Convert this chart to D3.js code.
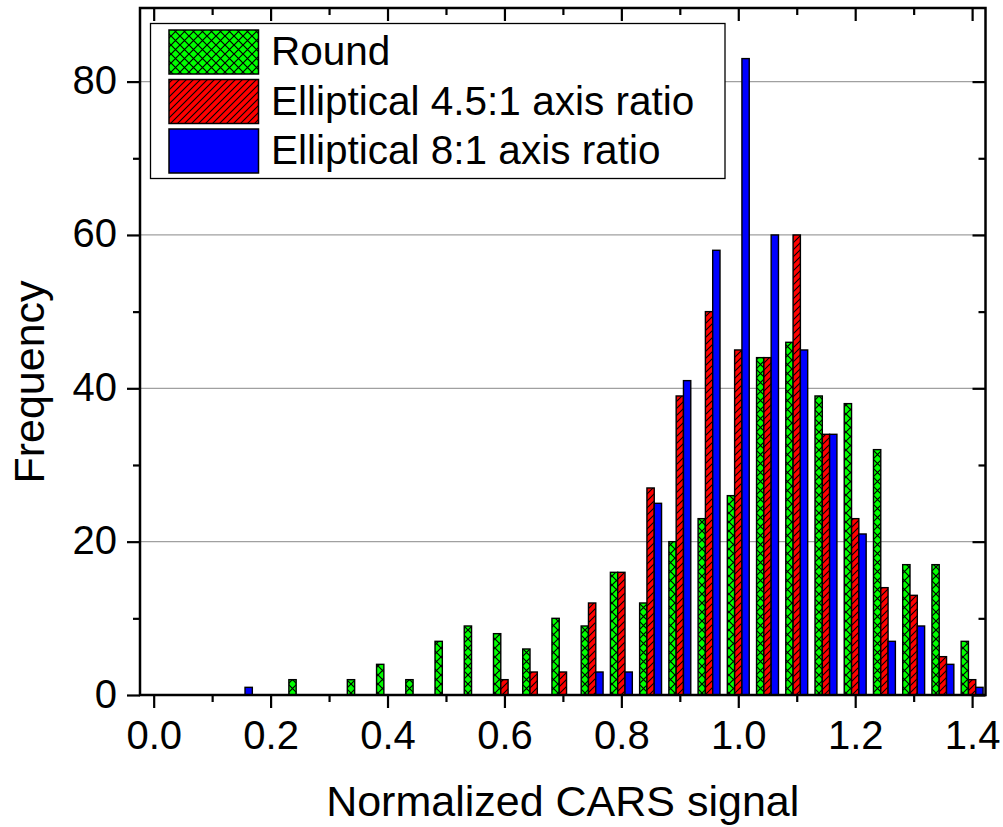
<!DOCTYPE html>
<html><head><meta charset="utf-8">
<script src="https://cdn.jsdelivr.net/npm/d3@7/dist/d3.min.js"></script>
<style>
body{margin:0;background:#fff;}
svg{display:block;}
text{font-family:"Liberation Sans",Arial,Helvetica,sans-serif;fill:#000;}
</style>
</head><body>
<svg id="chart" width="1003" height="827"></svg>
<script>
// ---- data ----
const bins = [0.15,0.20,0.25,0.30,0.35,0.40,0.45,0.50,0.55,0.60,0.65,0.70,0.75,0.80,0.85,0.90,0.95,1.00,1.05,1.10,1.15,1.20,1.25,1.30,1.35,1.40];
const roundVals   = [0,0,2,0,2,4,2,7,9,8,6,10,9,16,12,20,23,26,44,46,39,38,32,17,17,7];
const ellip45Vals = [0,0,0,0,0,0,0,0,0,2,3,3,12,16,27,39,50,45,44,60,34,23,14,13,5,2];
const ellip8Vals  = [1,0,0,0,0,0,0,0,0,0,0,0,3,3,25,41,58,83,60,45,34,21,7,9,4,1];
const seriesNames = ["Round","Elliptical 4.5:1 axis ratio","Elliptical 8:1 axis ratio"];
const xTickVals = [0.0,0.2,0.4,0.6,0.8,1.0,1.2,1.4];
const xMinorVals = [0.1,0.3,0.5,0.7,0.9,1.1,1.3];
const yTickVals = [0,20,40,60,80];
const yMinorVals = [10,30,50,70];
const xTitle = "Normalized CARS signal";
const yTitle = "Frequency";

// ---- layout ----
const L = 140, R = 985.5, T = 8, B = 695;
const svg = d3.select("#chart");
const x = d3.scaleLinear().domain([-0.0234, 1.4229]).range([L, R]);
const y = d3.scaleLinear().domain([0, 89.6]).range([B, T]);
const barW = 0.0125; // data units

// patterns
const defs = svg.append("defs");
const pg = defs.append("pattern").attr("id","hatchGreen").attr("patternUnits","userSpaceOnUse")
  .attr("width",9).attr("height",9);
pg.append("rect").attr("width",9).attr("height",9).attr("fill","#00ff00");
pg.append("path").attr("d","M0,0L9,9M9,0L0,9").attr("stroke","#000").attr("stroke-width",1.2);
const pr = defs.append("pattern").attr("id","hatchRed").attr("patternUnits","userSpaceOnUse")
  .attr("width",7).attr("height",7);
pr.append("rect").attr("width",7).attr("height",7).attr("fill","#ff0000");
pr.append("path").attr("d","M0,7L7,0M-1,1L1,-1M6,8L8,6").attr("stroke","#000").attr("stroke-width",1.1);

const fills = ["url(#hatchGreen)","url(#hatchRed)","#0000ff"];
const series = [roundVals, ellip45Vals, ellip8Vals];

// gridlines
svg.append("g").selectAll("line").data(yTickVals.filter(v=>v>0)).join("line")
  .attr("x1",L).attr("x2",R).attr("y1",d=>y(d)).attr("y2",d=>y(d))
  .attr("stroke","#a0a0a0").attr("stroke-width",1.2);

// bars
series.forEach((vals, si) => {
  const data = bins.map((b,i)=>({b, v: vals[i]})).filter(d=>d.v>0);
  svg.append("g").selectAll("rect").data(data).join("rect")
    .attr("x", d => x(d.b + (si-1.5)*barW))
    .attr("width", d => x(d.b + (si-0.5)*barW) - x(d.b + (si-1.5)*barW))
    .attr("y", d => y(d.v))
    .attr("height", d => y(0) - y(d.v))
    .attr("fill", fills[si])
    .attr("stroke","#000").attr("stroke-width",1.4);
});

// axes
const fs = 40;
const xAxisB = svg.append("g").attr("transform",`translate(0,${B})`)
  .call(d3.axisBottom(x).tickValues(xTickVals).tickFormat(d3.format(".1f")).tickSize(13).tickPadding(13));
svg.append("g").attr("transform",`translate(0,${B})`)
  .call(d3.axisBottom(x).tickValues(xMinorVals).tickFormat("").tickSize(7));
svg.append("g").attr("transform",`translate(0,${T})`)
  .call(d3.axisBottom(x).tickValues(xTickVals).tickFormat("").tickSize(13));
svg.append("g").attr("transform",`translate(0,${T})`)
  .call(d3.axisBottom(x).tickValues(xMinorVals).tickFormat("").tickSize(7));
const yAxisL = svg.append("g").attr("transform",`translate(${L},0)`)
  .call(d3.axisLeft(y).tickValues(yTickVals).tickSize(13).tickPadding(10));
svg.append("g").attr("transform",`translate(${L},0)`)
  .call(d3.axisLeft(y).tickValues(yMinorVals).tickFormat("").tickSize(7));
svg.append("g").attr("transform",`translate(${R},0)`)
  .call(d3.axisLeft(y).tickValues(yTickVals).tickFormat("").tickSize(13));
svg.append("g").attr("transform",`translate(${R},0)`)
  .call(d3.axisLeft(y).tickValues(yMinorVals).tickFormat("").tickSize(7));

svg.selectAll(".domain").remove();
svg.selectAll(".tick line").attr("stroke","#000").attr("stroke-width",2.2);
svg.selectAll(".tick text").attr("font-size",fs).attr("font-family","Liberation Sans, Arial, sans-serif").attr("fill","#000");
xAxisB.selectAll(".tick text").attr("dy","0.71em").attr("y", 26);
yAxisL.selectAll(".tick text").attr("dy","0.3em");

// frame
svg.append("rect").attr("x",L).attr("y",T).attr("width",R-L).attr("height",B-T)
  .attr("fill","none").attr("stroke","#000").attr("stroke-width",2.5);

// titles
svg.append("text").attr("x",(L+R)/2).attr("y",816).attr("text-anchor","middle")
  .attr("font-size",43).text(xTitle);
svg.append("text").attr("transform","translate(44,382) rotate(-90)").attr("text-anchor","middle")
  .attr("font-size",43).text(yTitle);

// legend
const lg = svg.append("g");
lg.append("rect").attr("x",150.5).attr("y",23.5).attr("width",574.5).attr("height",155)
  .attr("fill","#fff").attr("stroke","#000").attr("stroke-width",1.3);
const rowsY = [30, 79.5, 129];
seriesNames.forEach((name,i)=>{
  lg.append("rect").attr("x",169).attr("y",rowsY[i]).attr("width",89.5).attr("height",44)
    .attr("fill",fills[i]).attr("stroke","#000").attr("stroke-width",1.5);
  lg.append("text").attr("x",271).attr("y",rowsY[i]+35).attr("font-size",40.5).text(name);
});
</script>
</body></html>
